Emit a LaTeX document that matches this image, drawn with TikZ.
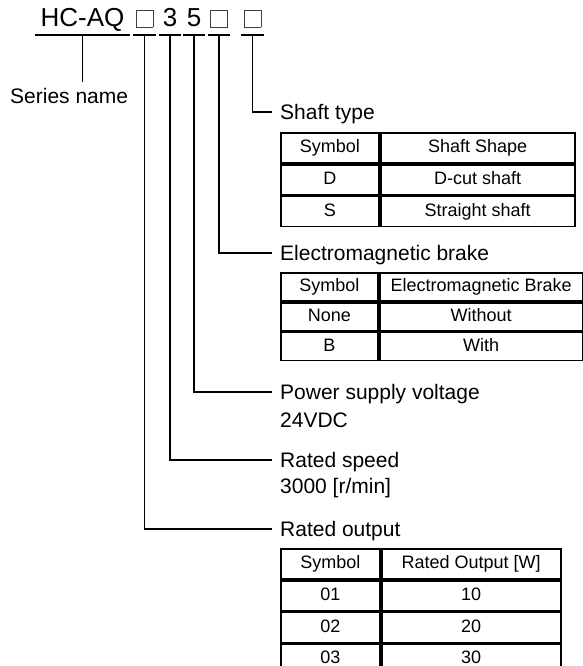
\documentclass[tikz,border=0pt]{standalone}
\usepackage{fontspec}
\setmainfont{Liberation Sans}
\usepackage{tikz}
\usetikzlibrary{matrix, positioning}
\newcommand{\titlefont}{\fontsize{26}{30}\selectfont}
\newcommand{\lblfont}{\fontsize{21}{25}\selectfont}
\newcommand{\tabfont}{\fontsize{18}{21}\selectfont}
\newcommand{\slotbox}{{\color{black!75}\setlength{\fboxsep}{0pt}\setlength{\fboxrule}{0.7pt}\fbox{\rule{0pt}{16.5pt}\hspace{16.5pt}}}}
\tikzset{
	conn/.style={line width=1.8pt},
	part/.style={inner xsep=0pt, inner ysep=8pt, text depth=0pt, minimum width=22pt, anchor=base, font=\titlefont},
	lbl/.style={anchor=west, inner xsep=8pt, inner ysep=0pt, text height=15pt, text depth=0pt, font=\lblfont},
	tab/.style={matrix of nodes, anchor=north west, inner sep=0pt, outer sep=0pt, column sep=0pt, row sep=0pt,
		nodes={draw, line width=1.8pt, inner sep=0pt, outer sep=0pt, minimum height=#1, text height=13pt, text depth=4pt, font=\tabfont}},
}
\begin{document}
\begin{tikzpicture}[x=1pt, y=-1pt]
		\useasboundingbox (0,0) rectangle (582,666);
			%model code:
			\node[part, minimum width=95pt] (hc) at (82.5,27) {HC-AQ};
			\node[part] (p1) at (144.5,27) {\slotbox};
			\node[part] (p2) at (170,27) {3};
			\node[part] (p3) at (194,27) {5};
			\node[part] (p4) at (219,27) {\slotbox};
			\node[part] (p5) at (252.5,27) {\slotbox};
			\foreach \p in {hc,p1,p2,p3,p4,p5}
			\draw[conn] (\p.south west) -- (\p.south east);

			%labels:
			\node[lbl, inner xsep=0pt, inner ysep=6.5pt] (series) at (10,96) {Series name};
			\node[lbl] (shaft) at (272,112) {Shaft type};
			\node[lbl] (brake) at (272,253) {Electromagnetic brake};
			\node[lbl] (volt) at (272,392) {Power supply voltage};
			\node[lbl] (voltval) at (272,420) {24VDC};
			\node[lbl] (speed) at (272,460) {Rated speed};
			\node[lbl] (speedval) at (272,486) {3000 [r/min]};
			\node[lbl] (output) at (272,529) {Rated output};

			%leaders:
			\draw[conn] (hc.south) -- (hc.south |- series.north);
			\draw[conn] (p5.south) |- (shaft.west);
			\draw[conn] (p4.south) |- (brake.west);
			\draw[conn] (p3.south) |- (volt.west);
			\draw[conn] (p2.south) |- (speed.west);
			\draw[conn] (p1.south) |- (output.west);

			%tables:
			\matrix (shafttab) [tab=30pt, column 1/.style={nodes={minimum width=98pt}}, column 2/.style={nodes={minimum width=194pt}}] at (280,132) {
				Symbol & Shaft Shape \\
				D & D-cut shaft \\
				S & Straight shaft \\
			};
			\matrix (braketab) [tab=28pt, column 1/.style={nodes={minimum width=97pt}}, column 2/.style={nodes={minimum width=203pt}}] at (280,272) {
				Symbol & Electromagnetic Brake \\
				None & Without \\
				B & With \\
			};
			\matrix (outtab) [tab=30pt, column 1/.style={nodes={minimum width=99pt}}, column 2/.style={nodes={minimum width=179pt}}] at (280,548) {
				Symbol & Rated Output [W] \\
				01 & 10 \\
				02 & 20 \\
				03 & 30 \\
			};
	\end{tikzpicture}
\end{document}
